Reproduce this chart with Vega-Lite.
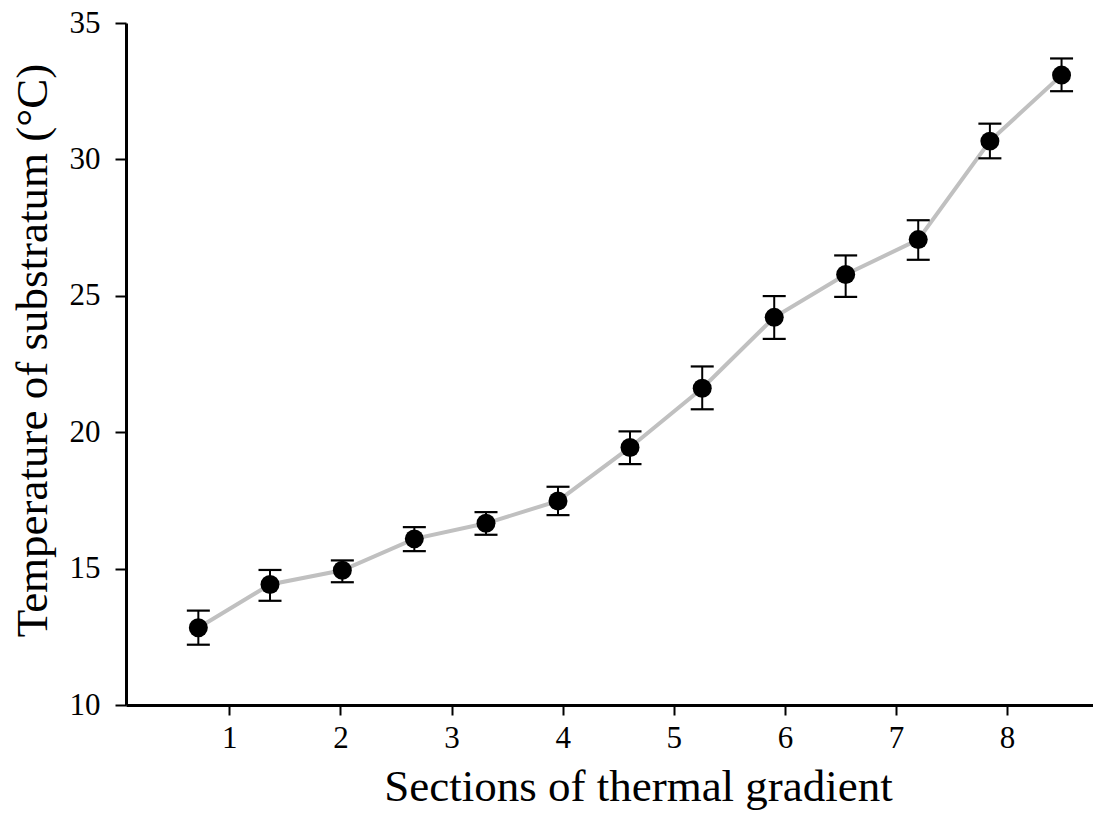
{
  "$schema": "https://vega.github.io/schema/vega-lite/v6.json",
  "autosize": {"type": "none"},
  "width": 967,
  "height": 682,
  "padding": {"left": 126, "top": 23, "right": 0, "bottom": 108},
  "background": "white",
  "config": {
    "view": {"stroke": null},
    "font": "Liberation Serif",
    "axis": {
      "grid": false,
      "domainColor": "black",
      "domainWidth": 3,
      "tickColor": "black",
      "tickWidth": 2,
      "labelFont": "Liberation Serif",
      "labelFontSize": 31,
      "labelColor": "black",
      "titleFont": "Liberation Serif",
      "titleFontSize": 45,
      "titleFontWeight": "normal",
      "titleColor": "black"
    }
  },
  "data": {
    "values": [
      {"section": 0.721, "temp": 12.83, "lo": 12.21, "hi": 13.46},
      {"section": 1.366, "temp": 14.42, "lo": 13.82, "hi": 14.95},
      {"section": 2.017, "temp": 14.94, "lo": 14.50, "hi": 15.30},
      {"section": 2.665, "temp": 16.09, "lo": 15.64, "hi": 16.52},
      {"section": 3.310, "temp": 16.66, "lo": 16.24, "hi": 17.07},
      {"section": 3.958, "temp": 17.48, "lo": 16.96, "hi": 18.00},
      {"section": 4.606, "temp": 19.44, "lo": 18.83, "hi": 20.03},
      {"section": 5.256, "temp": 21.61, "lo": 20.84, "hi": 22.41},
      {"section": 5.904, "temp": 24.21, "lo": 23.42, "hi": 24.99},
      {"section": 6.547, "temp": 25.78, "lo": 24.96, "hi": 26.48},
      {"section": 7.200, "temp": 27.06, "lo": 26.32, "hi": 27.77},
      {"section": 7.845, "temp": 30.67, "lo": 30.04, "hi": 31.31},
      {"section": 8.490, "temp": 33.09, "lo": 32.50, "hi": 33.70}
    ]
  },
  "layer": [
    {
      "mark": {"type": "line", "color": "#c0c0c0", "strokeWidth": 4},
      "encoding": {
        "x": {
          "field": "section",
          "type": "quantitative",
          "scale": {"domain": [0.07, 8.773], "nice": false, "zero": false},
          "axis": {
            "values": [1, 2, 3, 4, 5, 6, 7, 8],
            "format": "d",
            "title": "Sections of thermal gradient",
            "tickSize": 10,
            "labelPadding": 8,
            "titleBaseline": "alphabetic",
            "titleAlign": "center",
            "titleX": 512,
            "titleY": 95
          }
        },
        "y": {
          "field": "temp",
          "type": "quantitative",
          "scale": {"domain": [10, 35], "nice": false, "zero": false},
          "axis": {
            "values": [10, 15, 20, 25, 30, 35],
            "format": "d",
            "title": "Temperature of substratum (°C)",
            "tickSize": 11,
            "labelPadding": 15,
            "titleBaseline": "alphabetic",
            "titleAlign": "center",
            "titleAngle": -90,
            "titleX": -80,
            "titleY": 327
          }
        }
      }
    },
    {
      "mark": {"type": "rule", "color": "black", "strokeWidth": 2},
      "encoding": {
        "x": {"field": "section", "type": "quantitative"},
        "y": {"field": "lo", "type": "quantitative"},
        "y2": {"field": "hi"}
      }
    },
    {
      "mark": {"type": "tick", "orient": "horizontal", "color": "black", "size": 23, "thickness": 2.2, "opacity": 1},
      "encoding": {
        "x": {"field": "section", "type": "quantitative"},
        "y": {"field": "lo", "type": "quantitative"}
      }
    },
    {
      "mark": {"type": "tick", "orient": "horizontal", "color": "black", "size": 23, "thickness": 2.2, "opacity": 1},
      "encoding": {
        "x": {"field": "section", "type": "quantitative"},
        "y": {"field": "hi", "type": "quantitative"}
      }
    },
    {
      "mark": {"type": "point", "shape": "circle", "filled": true, "color": "black", "size": 360, "opacity": 1},
      "encoding": {
        "x": {"field": "section", "type": "quantitative"},
        "y": {"field": "temp", "type": "quantitative"}
      }
    }
  ]
}
